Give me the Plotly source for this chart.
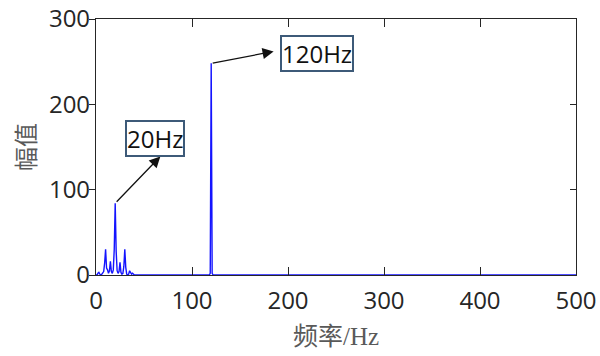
import plotly.graph_objects as go

# Spectrum data (frequency in Hz, amplitude)
freq = [0, 1, 2, 3, 4, 5, 6, 7, 8, 9, 10, 11, 12, 13, 14, 15, 16, 17, 18, 19, 20,
        21, 22, 23, 24, 25, 26, 27, 28, 29, 30, 31, 32, 33, 34, 35, 36, 37, 38, 39, 40,
        118, 119, 120, 121, 122, 500]
amp = [0, 0, 2, 3, 1, 0, 1, 2, 4, 14, 30, 8, 6, 2, 5, 16, 4, 2, 6, 30, 84,
       28, 5, 2, 4, 15, 3, 1, 2, 10, 30, 9, 1, 0, 1, 5, 2, 1, 2, 1, 0,
       0, 2, 248, 2, 0, 0]

x_ticks = [0, 100, 200, 300, 400, 500]
y_ticks = [0, 100, 200, 300]

peak_labels = ["20Hz", "120Hz"]
peak_x = [20, 120]
peak_y = [84, 248]

fig = go.Figure()
fig.add_trace(go.Scatter(x=freq, y=amp, mode="lines",
                         line=dict(color="rgb(20,20,255)", width=1.4),
                         hoverinfo="skip", showlegend=False))
# invisible trace to activate right-side axis
fig.add_trace(go.Scatter(x=[0], y=[0], yaxis="y2", mode="markers",
                         marker=dict(opacity=0), showlegend=False, hoverinfo="skip"))

axis_color = "#262626"
tick_font = dict(family="Open Sans, sans-serif", size=24, color="#262626")

# annotation geometry (layout positions, data coords)
arrow_heads = [(67, 139), (185, 262)]
box_centers = [(61, 160), (230, 260)]

annotations = []
for lab, px, py, (hx, hy), (bx, by) in zip(peak_labels, peak_x, peak_y, arrow_heads, box_centers):
    annotations.append(dict(
        x=hx, y=hy, ax=px, ay=py, xref="x", yref="y", axref="x", ayref="y",
        text="", showarrow=True, arrowhead=2, arrowsize=1.7, arrowwidth=1.3,
        arrowcolor="#111111", standoff=0, startstandoff=0))
    annotations.append(dict(
        x=bx, y=by, xref="x", yref="y", text=lab, showarrow=False,
        font=dict(family="Open Sans, sans-serif", size=24, color="#111111"),
        bgcolor="white", bordercolor="#3d5a78", borderwidth=2, borderpad=0))

fig.update_layout(
    width=600, height=356,
    margin=dict(l=96, r=24, t=19, b=81),
    paper_bgcolor="white", plot_bgcolor="white",
    xaxis=dict(range=[0, 500], tickvals=x_ticks, ticks="inside", ticklen=8,
               tickcolor=axis_color, showline=True, linecolor=axis_color, linewidth=1.2,
               mirror="ticks", showgrid=False, zeroline=False, tickfont=tick_font,
               ticklabelstandoff=4, automargin=False,
               title=dict(text='频率<span style="font-family:Liberation Serif">/Hz</span>',
                          font=dict(family="Noto Sans CJK SC", size=25, color="#595959"),
                          standoff=6)),
    yaxis=dict(range=[0, 300], tickvals=y_ticks, ticks="outside", ticklen=6,
               tickcolor=axis_color, showline=True, linecolor=axis_color, linewidth=1.2,
               mirror=True, showgrid=False, zeroline=False, tickfont=tick_font,
               automargin=False, ticklabelstandoff=-6,
               title=dict(text="幅值", font=dict(family="Noto Sans CJK SC", size=24,
                                                   color="#595959"), standoff=6)),
    yaxis2=dict(range=[0, 300], tickvals=y_ticks, overlaying="y", side="right",
                ticks="inside", ticklen=6, tickcolor=axis_color, showticklabels=False,
                showline=False, showgrid=False, zeroline=False, automargin=False),
    annotations=annotations,
)

fig.write_html("out.html")
